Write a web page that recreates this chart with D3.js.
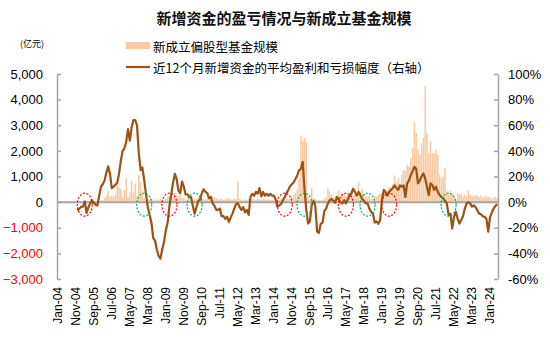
<!DOCTYPE html>
<html><head><meta charset="utf-8">
<script src="https://cdn.jsdelivr.net/npm/d3@7"></script>
<style>
body{margin:0;background:#fff;}
svg text{font-family:"Liberation Sans",Arial,"Noto Sans CJK SC",sans-serif;}
</style>
</head><body>
<svg id="chart" width="550" height="339"></svg>
<script>
// ---------- DATA ----------
const firstMonth = new Date(2004, 0, 1);
const lastMonthExclusive = new Date(2024, 5, 1); // Jan-04 .. May-24

// 新成立偏股型基金规模 (亿元), monthly from Jan-04
const fundSize = [
  30,20,40,20,10,20,30,20,10,20,30,20,            // 2004
  20,30,20,40,20,30,20,10,20,30,20,40,            // 2005
  60,80,150,250,420,220,250,200,280,650,580,520,  // 2006
  180,480,950,200,380,820,400,720,250,1050,800,380, // 2007
  150,100,120,80,150,100,60,120,80,150,100,80,    // 2008
  120,200,250,300,150,350,250,200,300,150,180,120, // 2009
  100,150,120,80,130,100,200,150,180,120,100,150, // 2010
  120,230,180,200,150,100,130,120,80,100,150,120, // 2011
  100,80,150,120,800,120,90,60,100,80,120,150,    // 2012
  100,120,80,150,100,90,120,100,80,110,90,100,    // 2013
  80,100,120,90,110,100,80,120,100,150,200,300,   // 2014
  350,500,900,2600,2400,2500,2350,200,100,550,150,120, // 2015
  80,100,60,90,120,200,550,420,300,150,250,200,   // 2016
  450,250,350,300,220,300,350,420,250,300,150,800, // 2017
  400,520,320,250,180,250,150,120,220,220,300,350, // 2018
  350,380,420,450,610,540,700,1040,740,940,700,1070, // 2019
  1260,1220,1460,1390,1720,2110,3150,2700,2040,1850,2300,2500, // 2020
  4530,2700,1910,2370,1900,1910,2040,1850,1070,940,1000,1330, // 2021
  420,300,450,300,200,100,350,300,330,230,280,220, // 2022
  470,300,250,230,280,250,200,260,180,200,250,180, // 2023
  200,120,180,200,150                              // 2024
];

// 近12个月新增资金的平均盈利和亏损幅度 (%), monthly from Dec-04 (right axis)
const lineStart = "Dec-04";
const avgProfit = [
  -6.8,                                            // Dec-04
  -5,-3.6,-3.5,0.5,-8.5,-4,-1,1.5,-0.5,-2,-2.6,5,  // 2005
  12,14,17,23,28,22,11,12,13.5,15,22,32,           // 2006
  40,42,47,57,48,58,64,64,60,38,25,27,             // 2007
  17,6,-4,-10,-16,-28,-30,-37,-42,-44,-37,-31,     // 2008
  -22,-16,-3,6,15,22,18,9,7,16,12,6,               // 2009
  6,4,4,-3,-9,-4,1,2,7,10,8,7,                     // 2010
  3,4,-1,-3,-6,-6,-5,-11,-11,-13,-11.5,-15.5,      // 2011
  -12,-9,-5,-1.5,-1,-4,-6,-4,-8,-6,-10,4,          // 2012
  6.5,5,8,6.5,11,4.5,8,5,6.5,5,6.5,5,              // 2013
  5,2,-3.6,-2.5,-1.5,1.5,4,7,9.5,12.5,14,15.5,     // 2014
  18,21,25,26,31.5,10,-6,-16.7,-15,-2,1,-3,        // 2015
  -23,-24,-17,-16,-7,-5,-1,1.5,2.5,1,-0.5,4,       // 2016
  2,-0.5,-1,1.5,-1,2,5,6.5,10.5,8,5,8,             // 2017
  5.5,2.5,1,-1,-1,-5,-7.5,-9,-16,-15,-17,-14,      // 2018
  1.5,9.5,8,5,8,9.5,11,13,11,9.5,13,12,            // 2019
  13,4,14.6,17,21,24,27.6,26,14.6,17,20,22.4,      // 2020
  18.5,12,5.5,14.6,13.3,9.4,12,8,5.5,4,2.9,1,      // 2021
  -1,-10,-9,-20.6,-11.5,-7.6,-12.8,-16.7,-14,-11,-5,-1, // 2022
  0,-1,-3.5,-2.5,-4,-6.5,-9,-9.5,-11,-11.5,-13,-23, // 2023
  -12,-8,-5,-3,-1.6                                // 2024
];

const xTickLabels = ["Jan-04","Nov-04","Sep-05","Jul-06","May-07","Mar-08","Jan-09","Nov-09","Sep-10","Jul-11","May-12","Mar-13","Jan-14","Nov-14","Sep-15","Jul-16","May-17","Mar-18","Jan-19","Nov-19","Sep-20","Jul-21","May-22","Mar-23","Jan-24"];
const leftTicks = [5000,4000,3000,2000,1000,0,-1000,-2000,-3000];
const rightTicks = [100,80,60,40,20,0,-20,-40,-60];

// annotation ellipses (month, value on right axis)
const redMarks = ["Apr-05","Mar-09","Jul-14","May-17","May-19"];
const greenMarks = ["Jan-08","May-10","Jun-15","May-18","Feb-22"];
const markLevel = -2;

const titleText = "新增资金的盈亏情况与新成立基金规模";
const legendBar = "新成立偏股型基金规模";
const legendLine = "近12个月新增资金的平均盈利和亏损幅度（右轴）";
const unitText = "(亿元)";

// ---------- CHART ----------
const fmt = d3.timeFormat("%b-%y");
const categories = d3.timeMonth.range(firstMonth, lastMonthExclusive).map(fmt);

const svg = d3.select("#chart");
const L = 57, R = 498, T = 74, B = 279;
const barColor = "#F9C9A3", lineColor = "#9A5217", axisColor = "#A6A6A6";
const cjk = '"Noto Sans CJK SC","Liberation Sans",sans-serif';

const x = d3.scaleBand().domain(categories).range([L, R]).paddingInner(0.15).paddingOuter(0);
const yL = d3.scaleLinear().domain([-3000, 5000]).range([B, T]);
const yR = d3.scaleLinear().domain([-60, 100]).range([B, T]);
const cx = c => x(c) + x.bandwidth() / 2;

// bars
const barData = categories.map((c, i) => ({c, v: fundSize[i]}));
svg.append("g").selectAll("rect").data(barData).join("rect")
  .attr("x", d => x(d.c))
  .attr("width", x.bandwidth())
  .attr("y", d => yL(Math.max(0, d.v)))
  .attr("height", d => Math.abs(yL(d.v) - yL(0)))
  .attr("fill", barColor);

// zero line
svg.append("line")
  .attr("x1", L).attr("x2", R)
  .attr("y1", yL(0)).attr("y2", yL(0))
  .attr("stroke", axisColor).attr("stroke-width", 2);

// left axis
const gL = svg.append("g").attr("transform", `translate(${L},0)`)
  .call(d3.axisLeft(yL).tickValues(leftTicks).tickSize(-4).tickSizeOuter(0).tickPadding(14)
    .tickFormat(d3.format(",")));
gL.select(".domain").attr("stroke", axisColor).attr("stroke-width", 1.5);
gL.selectAll(".tick line").attr("stroke", axisColor).attr("stroke-width", 1.5);
gL.selectAll(".tick text")
  .attr("font-size", 13)
  .attr("fill", d => d < 0 ? "#FF0000" : "#000");

// right axis
const gR = svg.append("g").attr("transform", `translate(${R},0)`)
  .call(d3.axisRight(yR).tickValues(rightTicks).tickSize(-4).tickSizeOuter(0).tickPadding(10)
    .tickFormat(d => d + "%"));
gR.select(".domain").attr("stroke", axisColor).attr("stroke-width", 1.5);
gR.selectAll(".tick line").attr("stroke", axisColor).attr("stroke-width", 1.5);
gR.selectAll(".tick text").attr("font-size", 13).attr("fill", "#000");

// bottom category labels
const gB = svg.append("g").attr("transform", `translate(0,${B})`)
  .call(d3.axisBottom(x).tickValues(xTickLabels).tickSize(0));
gB.select(".domain").remove();
gB.selectAll(".tick text")
  .attr("transform", "rotate(-90)")
  .attr("x", -8).attr("y", 0).attr("dy", "0.35em")
  .style("text-anchor", "end")
  .attr("font-size", 12).attr("fill", "#000");

// line
const startIdx = categories.indexOf(lineStart);
const lineData = avgProfit.map((v, k) => ({c: categories[startIdx + k], v}));
svg.append("path").datum(lineData)
  .attr("fill", "none").attr("stroke", lineColor).attr("stroke-width", 2.2)
  .attr("stroke-linejoin", "round")
  .attr("d", d3.line().x(d => cx(d.c)).y(d => yR(d.v)));

// annotation ellipses
function marks(list, color) {
  svg.append("g").selectAll("ellipse").data(list).join("ellipse")
    .attr("cx", d => cx(d)).attr("cy", yR(markLevel))
    .attr("rx", 7.5).attr("ry", 11.5)
    .attr("fill", "none").attr("stroke", color).attr("stroke-width", 1.2)
    .attr("stroke-dasharray", "2,1.6");
}
marks(redMarks, "#FF0000");
marks(greenMarks, "#00B050");

// title
svg.append("text").attr("x", 284).attr("y", 17)
  .attr("text-anchor", "middle").attr("dominant-baseline", "central")
  .style("font-family", cjk).attr("font-size", 15).attr("font-weight", "bold").attr("fill", "#111")
  .text(titleText);

// unit
svg.append("text").attr("x", 32).attr("y", 43)
  .attr("text-anchor", "middle").attr("dominant-baseline", "central")
  .style("font-family", cjk).attr("font-size", 9).attr("fill", "#000")
  .text(unitText);

// legend
svg.append("rect").attr("x", 126).attr("y", 42).attr("width", 24).attr("height", 7).attr("fill", barColor);
svg.append("text").attr("x", 153).attr("y", 46).attr("dominant-baseline", "central")
  .style("font-family", cjk).attr("font-size", 12.5).attr("fill", "#000").text(legendBar);
svg.append("line").attr("x1", 126).attr("x2", 150).attr("y1", 67).attr("y2", 67)
  .attr("stroke", lineColor).attr("stroke-width", 2.2);
svg.append("text").attr("x", 153).attr("y", 67).attr("dominant-baseline", "central")
  .style("font-family", cjk).attr("font-size", 12.5).attr("fill", "#000").text(legendLine);
</script>
</body></html>
